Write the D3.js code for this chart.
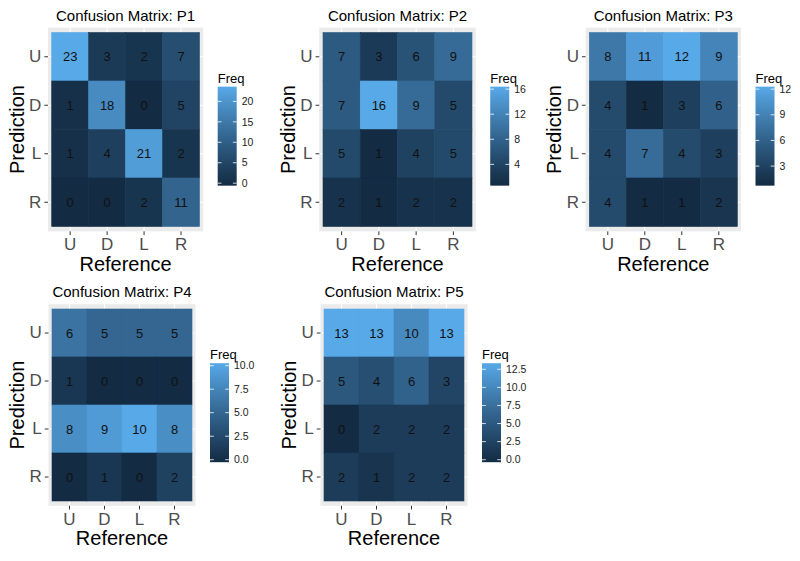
<!DOCTYPE html>
<html><head><meta charset="utf-8">
<script src="https://cdn.jsdelivr.net/npm/d3@7"></script>
<style>
body{margin:0;background:#fff}
svg{display:block}
text{font-family:"Liberation Sans",Arial,Helvetica,sans-serif}
</style>
</head><body>
<svg id="chart" width="800" height="561"></svg>
<script>
// ---- data ----
const referenceLabels = ["U", "D", "L", "R"];
const predictionLabels = ["U", "D", "L", "R"];
const panelTitles = ["Confusion Matrix: P1", "Confusion Matrix: P2", "Confusion Matrix: P3", "Confusion Matrix: P4", "Confusion Matrix: P5"];
// rows = prediction (U, D, L, R), columns = reference (U, D, L, R)
const p1Freq = [[23, 3, 2, 7], [1, 18, 0, 5], [1, 4, 21, 2], [0, 0, 2, 11]];
const p2Freq = [[7, 3, 6, 9], [7, 16, 9, 5], [5, 1, 4, 5], [2, 1, 2, 2]];
const p3Freq = [[8, 11, 12, 9], [4, 1, 3, 6], [4, 7, 4, 3], [4, 1, 1, 2]];
const p4Freq = [[6, 5, 5, 5], [1, 0, 0, 0], [8, 9, 10, 8], [0, 1, 0, 2]];
const p5Freq = [[13, 13, 10, 13], [5, 4, 6, 3], [0, 2, 2, 2], [2, 1, 2, 2]];
const p1LegendTicks = [0, 5, 10, 15, 20];
const p2LegendTicks = [4, 8, 12, 16];
const p3LegendTicks = [3, 6, 9, 12];
const p4LegendTicks = [0, 2.5, 5, 7.5, 10];
const p5LegendTicks = [0, 2.5, 5, 7.5, 10, 12.5];
const legendDecimals = [0, 0, 0, 1, 1];
const legendTitle = "Freq";
const xAxisTitle = "Reference";
const yAxisTitle = "Prediction";

const allFreq = [p1Freq, p2Freq, p3Freq, p4Freq, p5Freq];
const allTicks = [p1LegendTicks, p2LegendTicks, p3LegendTicks, p4LegendTicks, p5LegendTicks];

// ---- layout (tile area extents per panel) ----
const layout = [
  {x0: 51.7, x1: 199.5, y0: 32.5, y1: 226.5},
  {x0: 323.0, x1: 472.0, y0: 32.5, y1: 226.5},
  {x0: 589.3, x1: 737.3, y0: 32.5, y1: 226.5},
  {x0: 52.0, x1: 192.0, y0: 309.0, y1: 501.0},
  {x0: 324.0, x1: 464.0, y0: 309.0, y1: 501.0}
];
const LOW = "#132B43", HIGH = "#58A9E8";

const svg = d3.select("#chart");
const defs = svg.append("defs");

allFreq.forEach((freq, pi) => {
  const L = layout[pi];
  const g = svg.append("g");
  const cells = [];
  freq.forEach((row, r) => row.forEach((v, c) => cells.push({pred: predictionLabels[r], ref: referenceLabels[c], v})));
  const vals = cells.map(d => d.v);
  const vmin = d3.min(vals), vmax = d3.max(vals);

  const x = d3.scaleBand().domain(referenceLabels).range([L.x0, L.x1]).padding(0);
  const y = d3.scaleBand().domain(predictionLabels).range([L.y0, L.y1]).padding(0);
  const color = d3.scaleLinear().domain([vmin, vmax]).range([LOW, HIGH]).interpolate(d3.interpolateLab);

  const ex = x.bandwidth() * 0.1, ey = y.bandwidth() * 0.1;
  const px0 = L.x0 - ex, px1 = L.x1 + ex, py0 = L.y0 - ey, py1 = L.y1 + ey;

  // panel background
  g.append("rect").attr("x", px0).attr("y", py0).attr("width", px1 - px0).attr("height", py1 - py0).attr("fill", "#EBEBEB");
  // grid lines
  g.selectAll(".gx").data(referenceLabels).join("line")
    .attr("x1", d => x(d) + x.bandwidth() / 2).attr("x2", d => x(d) + x.bandwidth() / 2)
    .attr("y1", py0).attr("y2", py1).attr("stroke", "#fff").attr("stroke-width", 1.1);
  g.selectAll(".gy").data(predictionLabels).join("line")
    .attr("y1", d => y(d) + y.bandwidth() / 2).attr("y2", d => y(d) + y.bandwidth() / 2)
    .attr("x1", px0).attr("x2", px1).attr("stroke", "#fff").attr("stroke-width", 1.1);

  // tiles
  g.selectAll(".tile").data(cells).join("rect")
    .attr("x", d => x(d.ref)).attr("y", d => y(d.pred))
    .attr("width", x.bandwidth()).attr("height", y.bandwidth())
    .attr("fill", d => color(d.v))
    .attr("stroke", d => color(d.v)).attr("stroke-width", 0.6);
  g.selectAll(".lbl").data(cells).join("text")
    .attr("x", d => x(d.ref) + x.bandwidth() / 2).attr("y", d => y(d.pred) + y.bandwidth() / 2)
    .attr("dy", "0.36em").attr("text-anchor", "middle")
    .attr("font-size", 13).attr("fill", "#111").text(d => d.v);

  // axes
  const ax = g.append("g").attr("transform", `translate(0,${py1})`)
    .call(d3.axisBottom(x).tickSize(3.7).tickSizeOuter(0).tickPadding(3));
  const ay = g.append("g").attr("transform", `translate(${px0},0)`)
    .call(d3.axisLeft(y).tickSize(3.7).tickSizeOuter(0).tickPadding(3));
  [ax, ay].forEach(a => {
    a.select(".domain").remove();
    a.selectAll(".tick line").attr("stroke", "#333");
    a.selectAll(".tick text").attr("font-size", 17).attr("fill", "#4D4D4D")
      .attr("font-family", '"Liberation Sans",Arial,Helvetica,sans-serif');
  });

  // titles
  const cx = (px0 + px1) / 2, cy = (py0 + py1) / 2;
  g.append("text").attr("x", cx).attr("y", py0 - 7).attr("text-anchor", "middle")
    .attr("font-size", 15).attr("fill", "#000").text(panelTitles[pi]);
  g.append("text").attr("x", cx).attr("y", py1 + 39.5).attr("text-anchor", "middle")
    .attr("font-size", 20).attr("fill", "#000").text(xAxisTitle);
  g.append("text").attr("transform", `translate(${px0 - 24.5},${cy}) rotate(-90)`)
    .attr("text-anchor", "middle").attr("font-size", 20).attr("fill", "#000").text(yAxisTitle);

  // legend colourbar
  const bx = px1 + 14.5, bw = 19, bh = 99, by = py0 + 59;
  const gid = "grad" + pi;
  const grad = defs.append("linearGradient").attr("id", gid).attr("x1", 0).attr("y1", 1).attr("x2", 0).attr("y2", 0);
  d3.range(0, 21).forEach(i => {
    const t = i / 20;
    grad.append("stop").attr("offset", t).attr("stop-color", color(vmin + t * (vmax - vmin)));
  });
  g.append("rect").attr("x", bx).attr("y", by).attr("width", bw).attr("height", bh).attr("fill", `url(#${gid})`);
  const ls = d3.scaleLinear().domain([vmin, vmax]).range([by + bh - 0.025 * bh, by + 0.025 * bh]);
  const fmt = d3.format("." + legendDecimals[pi] + "f");
  const lt = g.selectAll(".lt").data(allTicks[pi]).join("g").attr("transform", d => `translate(0,${ls(d)})`);
  lt.append("line").attr("x1", bx).attr("x2", bx + bw / 5).attr("stroke", "#fff").attr("stroke-opacity", 0.8);
  lt.append("line").attr("x1", bx + bw - bw / 5).attr("x2", bx + bw).attr("stroke", "#fff").attr("stroke-opacity", 0.8);
  lt.append("text").attr("x", bx + bw + 5).attr("dy", "0.35em").attr("font-size", 10.5).attr("fill", "#222").text(d => fmt(d));
  g.append("text").attr("x", bx).attr("y", by - 4).attr("font-size", 13).attr("fill", "#000").text(legendTitle);
});
</script>
</body></html>
